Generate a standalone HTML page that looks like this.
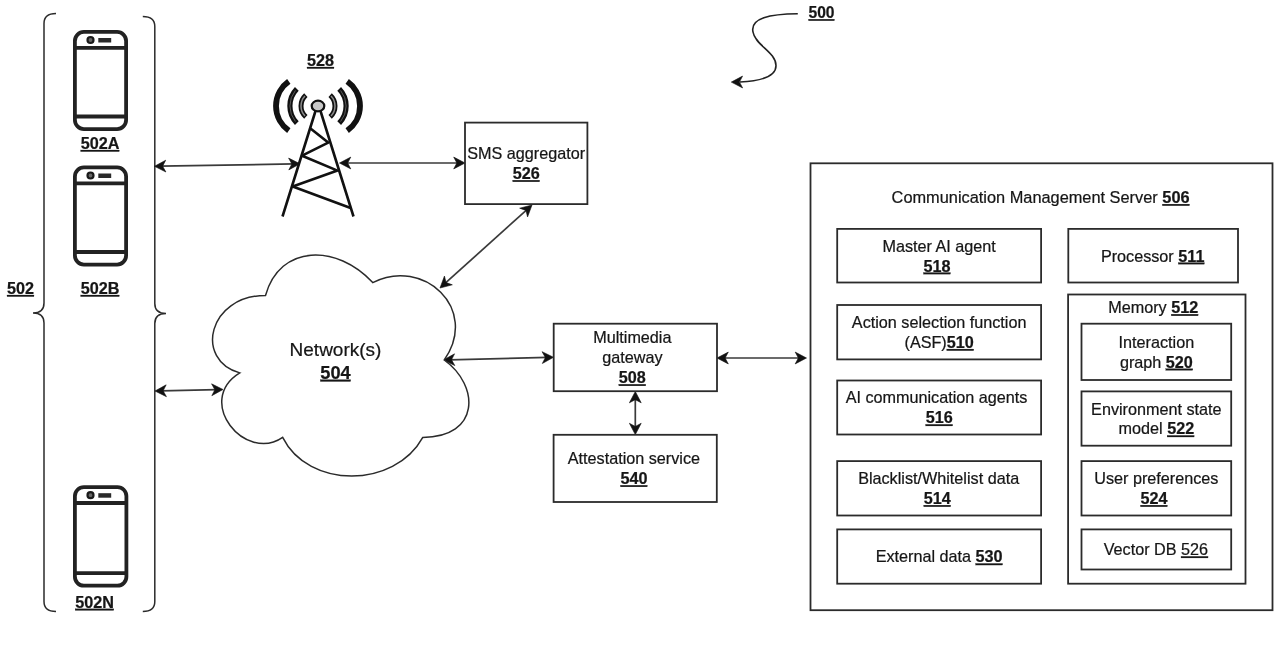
<!DOCTYPE html>
<html><head><meta charset="utf-8"><style>
html,body{margin:0;padding:0;background:#fff;width:1280px;height:670px;overflow:hidden}
svg{display:block;will-change:transform;font-family:"Liberation Sans",sans-serif;fill:#1e1e1e}
text{fill:#161616;stroke:#161616;stroke-width:0.22px}
</style></head><body>
<svg width="1280" height="670" viewBox="0 0 1280 670">
<path d="M56,13.4 Q44,13.4 44,23.4 L44,303 Q44,313 33,313 Q44,313 44,323 L44,601.4 Q44,611.4 56,611.4" fill="none" stroke="#2b2b2b" stroke-width="1.5"/>
<path d="M142.8,16.4 Q154.8,16.4 154.8,26.4 L154.8,303.5 Q154.8,313.5 166,313.5 Q154.8,313.5 154.8,323.5 L154.8,601.4 Q154.8,611.4 142.8,611.4" fill="none" stroke="#2b2b2b" stroke-width="1.5"/>
<g fill="none" stroke="#222" stroke-width="3.8">
<rect x="74.9" y="31.9" width="51.2" height="97.2" rx="9" ry="9"/>
<line x1="74.9" y1="47.8" x2="126.1" y2="47.8"/>
<line x1="74.9" y1="116.5" x2="126.1" y2="116.5"/>
</g>
<circle cx="90.5" cy="40" r="3.0" fill="#666" stroke="#1a1a1a" stroke-width="2.2"/>
<rect x="98.3" y="38" width="12.9" height="4.5" fill="#2a2a2a"/>
<g fill="none" stroke="#222" stroke-width="3.8">
<rect x="74.9" y="167.4" width="51.2" height="97.2" rx="9" ry="9"/>
<line x1="74.9" y1="183.3" x2="126.1" y2="183.3"/>
<line x1="74.9" y1="252.0" x2="126.1" y2="252.0"/>
</g>
<circle cx="90.5" cy="175.5" r="3.0" fill="#666" stroke="#1a1a1a" stroke-width="2.2"/>
<rect x="98.3" y="173.5" width="12.9" height="4.5" fill="#2a2a2a"/>
<g fill="none" stroke="#222" stroke-width="3.8">
<rect x="74.9" y="487.09999999999997" width="51.500000000000014" height="98.60000000000004" rx="9" ry="9"/>
<line x1="74.9" y1="503.0" x2="126.4" y2="503.0"/>
<line x1="74.9" y1="573.1" x2="126.4" y2="573.1"/>
</g>
<circle cx="90.5" cy="495.2" r="3.0" fill="#666" stroke="#1a1a1a" stroke-width="2.2"/>
<rect x="98.3" y="493.2" width="12.9" height="4.5" fill="#2a2a2a"/>
<text x="100" y="149" font-size="16.2" text-anchor="middle" xml:space="preserve"><tspan font-weight="bold" text-decoration="underline">502A</tspan></text>
<text x="100" y="294" font-size="16.2" text-anchor="middle" xml:space="preserve"><tspan font-weight="bold" text-decoration="underline">502B</tspan></text>
<text x="94.5" y="607.8" font-size="16.2" text-anchor="middle" xml:space="preserve"><tspan font-weight="bold" text-decoration="underline">502N</tspan></text>
<text x="20.5" y="294" font-size="16.2" text-anchor="middle" xml:space="preserve"><tspan font-weight="bold" text-decoration="underline">502</tspan></text>
<path d="M305.86,95.08 A14.7,14.7 0 0 0 305.86,116.92" fill="none" stroke="#111" stroke-width="5.0"/>
<path d="M330.14,95.08 A14.7,14.7 0 0 1 330.14,116.92" fill="none" stroke="#111" stroke-width="5.0"/>
<path d="M296.83,88.84 A24.7,24.7 0 0 0 296.83,123.16" fill="none" stroke="#111" stroke-width="5.2"/>
<path d="M339.17,88.84 A24.7,24.7 0 0 1 339.17,123.16" fill="none" stroke="#111" stroke-width="5.2"/>
<path d="M288.79,81.43 A30,30 0 0 0 288.79,130.57" fill="none" stroke="#111" stroke-width="5.8"/>
<path d="M347.21,81.43 A30,30 0 0 1 347.21,130.57" fill="none" stroke="#111" stroke-width="5.8"/>
<path d="M304.95,95.97 A14.7,14.7 0 0 0 304.95,116.03" fill="none" stroke="#8a8a8a" stroke-width="1.5"/>
<path d="M331.05,95.97 A14.7,14.7 0 0 1 331.05,116.03" fill="none" stroke="#8a8a8a" stroke-width="1.5"/>
<path d="M295.40,90.46 A24.7,24.7 0 0 0 295.40,121.54" fill="none" stroke="#5a5a5a" stroke-width="1.0"/>
<path d="M340.60,90.46 A24.7,24.7 0 0 1 340.60,121.54" fill="none" stroke="#5a5a5a" stroke-width="1.0"/>
<g stroke="#111" stroke-width="2.6" fill="none" stroke-linejoin="round">
<path d="M315.5,111 L282.5,216.5 M320.5,111 L353.5,216.5"/>
<path d="M310.5,128.6 L328.2,142.6 L302.1,155.7 L337.5,170.6 L292.7,186.5 L350.6,208"/>
</g>
<ellipse cx="318" cy="106" rx="6.3" ry="5.3" fill="#c8c8c8" stroke="#111" stroke-width="2.2"/>
<text x="320.5" y="66" font-size="16.2" text-anchor="middle" xml:space="preserve"><tspan font-weight="bold" text-decoration="underline">528</tspan></text>
<path d="M797.8,13.7 C770,14 750,18 753,32 C755,45 776,52 776,65.7 C776,77 760,81 740,82" fill="none" stroke="#222" stroke-width="1.6"/>
<path d="M731.30,82.10 L742.56,76.12 L739.44,82.04 L742.64,87.92 Z" fill="#111" stroke="#111" stroke-width="0.6"/>
<text x="821.5" y="18.2" font-size="15.6" text-anchor="middle" xml:space="preserve"><tspan font-weight="bold" text-decoration="underline">500</tspan></text>
<line x1="160.50" y1="166.20" x2="294.00" y2="163.90" stroke="#3a3a3a" stroke-width="1.7"/>
<path d="M300.00,163.80 L288.80,169.89 L291.87,163.94 L288.60,158.10 Z" fill="#111" stroke="#111" stroke-width="0.6"/>
<path d="M154.50,166.30 L165.70,160.21 L162.63,166.16 L165.90,172.00 Z" fill="#111" stroke="#111" stroke-width="0.6"/>
<line x1="345.50" y1="163.00" x2="459.00" y2="163.00" stroke="#3a3a3a" stroke-width="1.7"/>
<path d="M465.00,163.00 L453.70,168.90 L456.86,163.00 L453.70,157.10 Z" fill="#111" stroke="#111" stroke-width="0.6"/>
<path d="M339.50,163.00 L350.80,157.10 L347.64,163.00 L350.80,168.90 Z" fill="#111" stroke="#111" stroke-width="0.6"/>
<line x1="527.55" y1="209.02" x2="444.45" y2="283.98" stroke="#3a3a3a" stroke-width="1.7"/>
<path d="M440.00,288.00 L444.44,276.05 L446.04,282.55 L452.34,284.81 Z" fill="#111" stroke="#111" stroke-width="0.6"/>
<path d="M532.00,205.00 L527.56,216.95 L525.96,210.45 L519.66,208.19 Z" fill="#111" stroke="#111" stroke-width="0.6"/>
<line x1="161.00" y1="390.87" x2="217.00" y2="389.63" stroke="#3a3a3a" stroke-width="1.7"/>
<path d="M223.00,389.50 L211.83,395.65 L214.87,389.68 L211.57,383.85 Z" fill="#111" stroke="#111" stroke-width="0.6"/>
<path d="M155.00,391.00 L166.17,384.85 L163.13,390.82 L166.43,396.65 Z" fill="#111" stroke="#111" stroke-width="0.6"/>
<line x1="449.40" y1="359.85" x2="547.50" y2="357.45" stroke="#3a3a3a" stroke-width="1.7"/>
<path d="M553.50,357.30 L542.35,363.48 L545.37,357.50 L542.06,351.68 Z" fill="#111" stroke="#111" stroke-width="0.6"/>
<path d="M443.40,360.00 L454.55,353.82 L451.53,359.80 L454.84,365.62 Z" fill="#111" stroke="#111" stroke-width="0.6"/>
<line x1="723.00" y1="358.00" x2="800.50" y2="358.00" stroke="#3a3a3a" stroke-width="1.7"/>
<path d="M806.50,358.00 L795.20,363.90 L798.36,358.00 L795.20,352.10 Z" fill="#111" stroke="#111" stroke-width="0.6"/>
<path d="M717.00,358.00 L728.30,352.10 L725.14,358.00 L728.30,363.90 Z" fill="#111" stroke="#111" stroke-width="0.6"/>
<line x1="635.30" y1="397.50" x2="635.30" y2="428.60" stroke="#3a3a3a" stroke-width="1.7"/>
<path d="M635.30,434.60 L629.40,423.30 L635.30,426.46 L641.20,423.30 Z" fill="#111" stroke="#111" stroke-width="0.6"/>
<path d="M635.30,391.50 L641.20,402.80 L635.30,399.64 L629.40,402.80 Z" fill="#111" stroke="#111" stroke-width="0.6"/>
<path d="M265.50,295.50 C208.30,295.50 194.00,360.00 239.76,372.90 C194.00,401.28 245.48,463.20 282.66,437.40 C308.40,489.00 394.20,489.00 422.80,437.40 C480.00,437.40 480.00,385.80 444.25,360.00 C480.00,308.40 422.80,256.80 372.75,282.60 C337.00,243.90 279.80,243.90 265.50,295.50 Z" fill="#fff" stroke="#2b2b2b" stroke-width="1.5"/>
<text x="335.5" y="355.6" font-size="19" text-anchor="middle" xml:space="preserve"><tspan>Network(s)</tspan></text>
<text x="335.5" y="378.7" font-size="18.2" text-anchor="middle" xml:space="preserve"><tspan font-weight="bold" text-decoration="underline">504</tspan></text>
<rect x="465" y="122.6" width="122.39999999999998" height="81.5" fill="#fff" stroke="#2b2b2b" stroke-width="1.8"/>
<text x="526.2" y="159.3" font-size="16.2" text-anchor="middle" xml:space="preserve"><tspan>SMS aggregator</tspan></text>
<text x="526.2" y="179.2" font-size="16.2" text-anchor="middle" xml:space="preserve"><tspan font-weight="bold" text-decoration="underline">526</tspan></text>
<rect x="553.7" y="323.7" width="163.29999999999995" height="67.5" fill="#fff" stroke="#2b2b2b" stroke-width="1.8"/>
<text x="632.35" y="343.45" font-size="16.2" text-anchor="middle" xml:space="preserve"><tspan>Multimedia</tspan></text>
<text x="632.35" y="363.35" font-size="16.2" text-anchor="middle" xml:space="preserve"><tspan>gateway</tspan></text>
<text x="632.35" y="383.25" font-size="16.2" text-anchor="middle" xml:space="preserve"><tspan font-weight="bold" text-decoration="underline">508</tspan></text>
<rect x="553.6" y="434.8" width="163.19999999999993" height="67.19999999999999" fill="#fff" stroke="#2b2b2b" stroke-width="1.8"/>
<text x="633.9" y="464.35" font-size="16.2" text-anchor="middle" xml:space="preserve"><tspan>Attestation service</tspan></text>
<text x="633.9" y="484.25" font-size="16.2" text-anchor="middle" xml:space="preserve"><tspan font-weight="bold" text-decoration="underline">540</tspan></text>
<rect x="810.5" y="163.3" width="462.0" height="446.90000000000003" fill="#fff" stroke="#2b2b2b" stroke-width="1.8"/>
<text x="1040.6" y="203.1" font-size="16.35" text-anchor="middle" xml:space="preserve"><tspan>Communication Management Server </tspan><tspan font-weight="bold" text-decoration="underline">506</tspan></text>
<rect x="837.2" y="228.9" width="203.89999999999986" height="53.599999999999994" fill="#fff" stroke="#2b2b2b" stroke-width="1.8"/>
<text x="939.15" y="251.65" font-size="16.2" text-anchor="middle" xml:space="preserve"><tspan>Master AI agent</tspan></text>
<text x="936.95" y="271.55" font-size="16.2" text-anchor="middle" xml:space="preserve"><tspan font-weight="bold" text-decoration="underline">518</tspan></text>
<rect x="1068.3" y="228.9" width="169.70000000000005" height="53.599999999999994" fill="#fff" stroke="#2b2b2b" stroke-width="1.8"/>
<text x="1152.65" y="261.6" font-size="16.2" text-anchor="middle" xml:space="preserve"><tspan>Processor </tspan><tspan font-weight="bold" text-decoration="underline">511</tspan></text>
<rect x="1068.1" y="294.5" width="177.4000000000001" height="289.20000000000005" fill="#fff" stroke="#2b2b2b" stroke-width="1.8"/>
<text x="1153.2" y="313.2" font-size="16.2" text-anchor="middle" xml:space="preserve"><tspan>Memory </tspan><tspan font-weight="bold" text-decoration="underline">512</tspan></text>
<rect x="837.2" y="305" width="203.89999999999986" height="54.39999999999998" fill="#fff" stroke="#2b2b2b" stroke-width="1.8"/>
<text x="939.15" y="328.15" font-size="16.2" text-anchor="middle" xml:space="preserve"><tspan>Action selection function</tspan></text>
<text x="939.15" y="348.05" font-size="16.2" text-anchor="middle" xml:space="preserve"><tspan>(ASF)</tspan><tspan font-weight="bold" text-decoration="underline">510</tspan></text>
<rect x="1081.5" y="323.7" width="149.70000000000005" height="56.30000000000001" fill="#fff" stroke="#2b2b2b" stroke-width="1.8"/>
<text x="1156.35" y="347.8" font-size="16.2" text-anchor="middle" xml:space="preserve"><tspan>Interaction</tspan></text>
<text x="1156.35" y="367.7" font-size="16.2" text-anchor="middle" xml:space="preserve"><tspan>graph </tspan><tspan font-weight="bold" text-decoration="underline">520</tspan></text>
<rect x="837.2" y="380.5" width="203.89999999999986" height="54.0" fill="#fff" stroke="#2b2b2b" stroke-width="1.8"/>
<text x="936.55" y="403.45" font-size="16.2" text-anchor="middle" xml:space="preserve"><tspan>AI communication agents</tspan></text>
<text x="939.15" y="423.35" font-size="16.2" text-anchor="middle" xml:space="preserve"><tspan font-weight="bold" text-decoration="underline">516</tspan></text>
<rect x="1081.5" y="391.4" width="149.70000000000005" height="54.30000000000001" fill="#fff" stroke="#2b2b2b" stroke-width="1.8"/>
<text x="1156.35" y="414.5" font-size="16.2" text-anchor="middle" xml:space="preserve"><tspan>Environment state</tspan></text>
<text x="1156.35" y="434.4" font-size="16.2" text-anchor="middle" xml:space="preserve"><tspan>model </tspan><tspan font-weight="bold" text-decoration="underline">522</tspan></text>
<rect x="837.2" y="461.1" width="203.89999999999986" height="54.39999999999998" fill="#fff" stroke="#2b2b2b" stroke-width="1.8"/>
<text x="938.65" y="484.25" font-size="16.2" text-anchor="middle" xml:space="preserve"><tspan>Blacklist/Whitelist data</tspan></text>
<text x="937.25" y="504.15" font-size="16.2" text-anchor="middle" xml:space="preserve"><tspan font-weight="bold" text-decoration="underline">514</tspan></text>
<rect x="1081.5" y="461.1" width="149.70000000000005" height="54.39999999999998" fill="#fff" stroke="#2b2b2b" stroke-width="1.8"/>
<text x="1156.35" y="484.25" font-size="16.2" text-anchor="middle" xml:space="preserve"><tspan>User preferences</tspan></text>
<text x="1153.95" y="504.15" font-size="16.2" text-anchor="middle" xml:space="preserve"><tspan font-weight="bold" text-decoration="underline">524</tspan></text>
<rect x="837.2" y="529.4" width="203.89999999999986" height="54.30000000000007" fill="#fff" stroke="#2b2b2b" stroke-width="1.8"/>
<text x="939.15" y="562.45" font-size="16.2" text-anchor="middle" xml:space="preserve"><tspan>External data </tspan><tspan font-weight="bold" text-decoration="underline">530</tspan></text>
<rect x="1081.5" y="529.4" width="149.70000000000005" height="40.10000000000002" fill="#fff" stroke="#2b2b2b" stroke-width="1.8"/>
<text x="1155.85" y="555.35" font-size="16.2" text-anchor="middle" xml:space="preserve"><tspan>Vector DB </tspan><tspan text-decoration="underline">526</tspan></text>
</svg></body></html>
